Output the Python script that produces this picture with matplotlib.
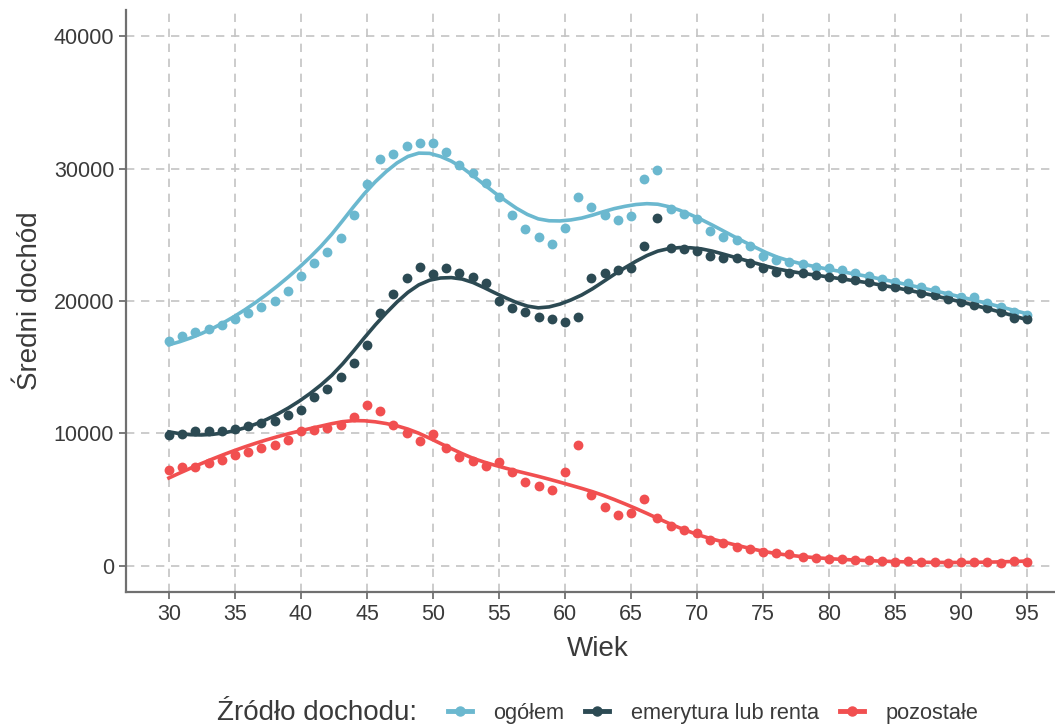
import numpy as np
import matplotlib.pyplot as plt
from matplotlib.lines import Line2D

plt.rcParams['font.family'] = ['Liberation Sans', 'DejaVu Sans']

# wiek 30..95
wiek = np.arange(30, 96)

ogolem = [16980, 17360, 17640, 17890, 18190, 18620, 19070, 19580, 20010, 20760,
          21900, 22910, 23740, 24750, 26510, 28830, 30720, 31100, 31730, 31980,
          31940, 31300, 30270, 29670, 28910, 27900, 26510, 25450, 24830, 24300,
          25510, 27900, 27070, 26510, 26130, 26440, 29210, 29890, 26970, 26600,
          26190, 25320, 24870, 24620, 24170, 23410, 23110, 22980, 22810, 22600,
          22480, 22350, 22100, 21900, 21650, 21470, 21350, 21090, 20840, 20460,
          20290, 20290, 19880, 19530, 19200, 18950]

emerytura = [9870, 9950, 10170, 10170, 10170, 10300, 10550, 10750, 10950, 11380,
             11760, 12720, 13330, 14240, 15290, 16680, 19130, 20510, 21720, 22600,
             22010, 22480, 22150, 21800, 21350, 20030, 19500, 19150, 18820, 18620,
             18440, 18820, 21720, 22100, 22350, 22530, 24170, 26310, 23990, 23920,
             23770, 23410, 23240, 23240, 22870, 22480, 22220, 22150, 22100, 21970,
             21850, 21720, 21600, 21470, 21140, 21040, 20890, 20640, 20460, 20140,
             19960, 19710, 19460, 19200, 18700, 18620]

pozostale = [7220, 7430, 7470, 7780, 7980, 8360, 8610, 8910, 9120, 9490,
             10200, 10250, 10380, 10630, 11260, 12140, 11710, 10630, 10000, 9420,
             9980, 8870, 8180, 7930, 7550, 7850, 7050, 6340, 6010, 5710,
             7100, 9090, 5330, 4400, 3820, 3990, 5050, 3570, 3010, 2690,
             2440, 1930, 1680, 1420, 1250, 1040, 920, 870, 670, 590,
             490, 490, 420, 420, 360, 290, 330, 290, 290, 170,
             290, 290, 290, 220, 330, 290]

serie = ["ogółem", "emerytura lub renta", "pozostałe"]
kolory = ["#6BB8CF", "#2C4A53", "#F14F50"]


# loess (lokalna regresja kwadratowa, wagi tricube)
def loess(x, y, span, xs):
    x = np.asarray(x, float)
    y = np.asarray(y, float)
    n = len(x)
    q = int(np.floor(n * span))
    out = np.zeros(len(xs))
    for i, x0 in enumerate(xs):
        d = np.abs(x - x0)
        h = np.sort(d)[q - 1]
        w = np.clip(1 - (d / h) ** 3, 0, None) ** 3
        X = np.column_stack([np.ones(n), x - x0, (x - x0) ** 2])
        W = np.sqrt(w)
        beta = np.linalg.lstsq(X * W[:, None], y * W, rcond=None)[0]
        out[i] = beta[0]
    return out


fig = plt.figure(figsize=(10.55, 7.28), dpi=100)
ax = fig.add_axes([126 / 1055, 1 - 592 / 728, 944 / 1055, 582 / 728])

xs = np.linspace(30, 95, 80)
for dane, kolor in zip([ogolem, emerytura, pozostale], kolory):
    ax.scatter(wiek, dane, s=50, color=kolor, zorder=3, linewidths=0)
    ax.plot(xs, loess(wiek, dane, 0.42, xs), color=kolor, lw=2.6, zorder=4)

ax.set_xlim(26.75, 98.25)
ax.set_ylim(-2000, 42000)
ax.set_xticks(np.arange(30, 96, 5))
ax.set_yticks(np.arange(0, 40001, 10000))
ax.grid(True, ls=(0, (5, 4)), color="#c4c4c4", lw=1.2)
ax.set_axisbelow(True)
for s in ["top", "right"]:
    ax.spines[s].set_visible(False)
for s in ["left", "bottom"]:
    ax.spines[s].set_color("#707070")
    ax.spines[s].set_linewidth(1.6)
ax.tick_params(colors="#707070", labelcolor="#3a3a3a", labelsize=15.5, width=1.3, length=5)
ax.set_xlabel("Wiek", fontsize=20, color="#3a3a3a", labelpad=8)
ax.set_ylabel("Średni dochód", fontsize=20, color="#3a3a3a", labelpad=8)

uchwyty = [Line2D([], [], color=k, lw=3.5, marker="o", markersize=6.5) for k in kolory]
fig.text(217 / 1055, 1 - 713 / 728, "Źródło dochodu:", fontsize=20, color="#3a3a3a",
         va="center", ha="left")
fig.legend(uchwyty, serie, loc="center left", bbox_to_anchor=(428 / 1055, 1 - 713 / 728),
           ncol=3, frameon=False, fontsize=15.7, handlelength=1.1, handletextpad=1.0,
           columnspacing=0.95, labelcolor="#3a3a3a")

fig.savefig("out.png", dpi=100)
